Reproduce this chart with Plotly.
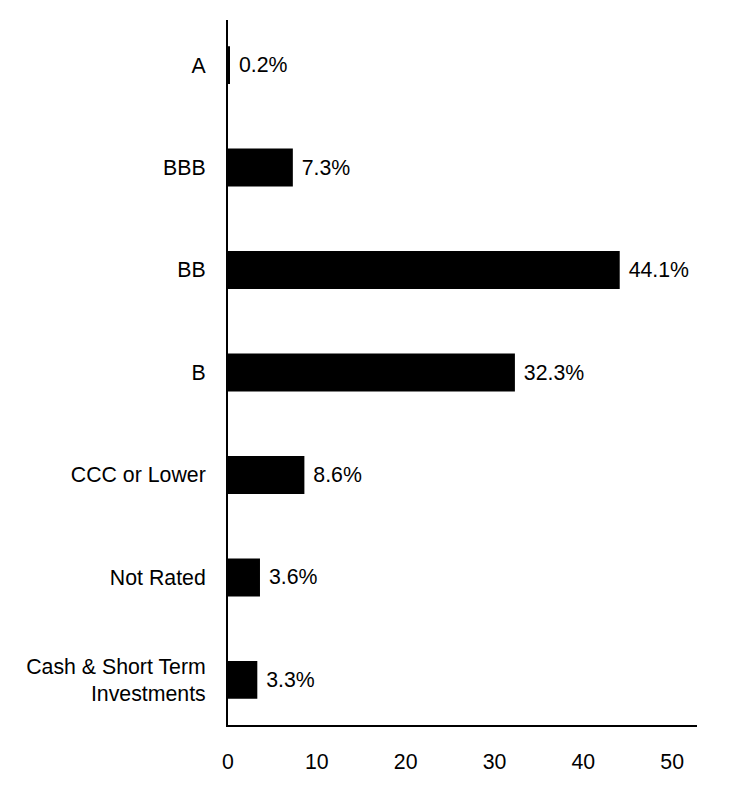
import plotly.graph_objects as go

categories = ["A", "BBB", "BB", "B", "CCC or Lower", "Not Rated", "Cash & Short Term<br>Investments"]
values = [0.2, 7.3, 44.1, 32.3, 8.6, 3.6, 3.3]
labels = ["0.2%", "7.3%", "44.1%", "32.3%", "8.6%", "3.6%", "3.3%"]
tick_vals = [0, 10, 20, 30, 40, 50]

FONT = "Liberation Sans, Arial"
FS = 21.3

fig = go.Figure(go.Bar(
    y=categories, x=values, orientation="h",
    marker=dict(color="#000000", line=dict(width=0)),
    text=labels, texttemplate=" %{text}", textposition="outside", cliponaxis=False,
    textfont=dict(family=FONT, size=FS, color="#000000"),
))

fig.update_layout(
    width=732, height=792,
    margin=dict(l=228, r=35, t=20, b=67),
    paper_bgcolor="white", plot_bgcolor="white",
    bargap=0.63,
    showlegend=False,
    font=dict(family=FONT, size=FS, color="#000000"),
    xaxis=dict(range=[0, 52.8], tickvals=tick_vals, showgrid=False, zeroline=False,
               showline=True, linecolor="black", linewidth=2,
               ticks="outside", ticklen=16, tickcolor="rgba(0,0,0,0)"),
    yaxis=dict(range=[6.44, -0.44], showgrid=False, zeroline=False,
               showline=True, linecolor="black", linewidth=2,
               ticks="outside", ticklen=16, tickcolor="rgba(0,0,0,0)"),
)

fig.write_html("out.html")
